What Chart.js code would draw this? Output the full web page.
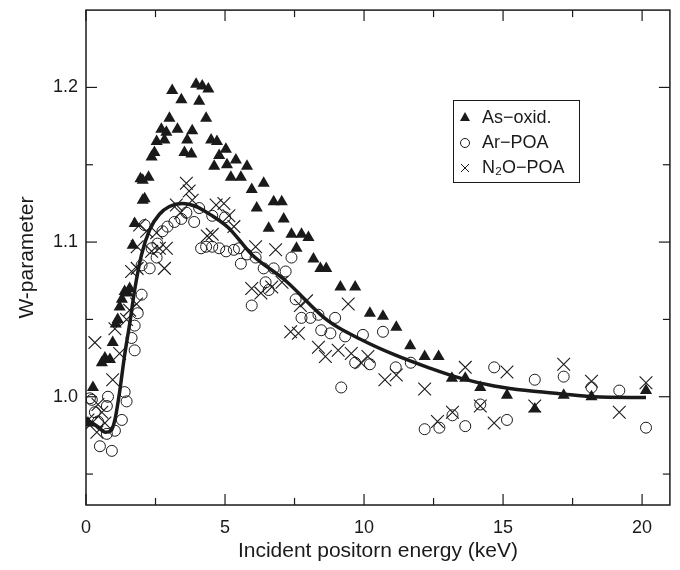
<!DOCTYPE html>
<html>
<head>
<meta charset="utf-8">
<script src="https://cdn.jsdelivr.net/npm/chart.js@4.4.1/dist/chart.umd.min.js"></script>
<style>
  html, body { margin: 0; padding: 0; background: #fff; }
  #wrap { width: 680px; height: 570px; }
</style>
</head>
<body>
<div id="wrap"><canvas id="c"></canvas></div>
<script>
// As-oxid. (filled triangles)
const asOxidX = [0.07, 0.25, 0.57, 0.68, 0.86, 0.96, 1.07, 1.14, 1.21, 1.29, 1.39, 1.50, 1.57, 1.68, 1.75, 2.04, 1.96, 2.04, 2.11, 2.25, 2.36, 2.46, 2.54, 2.71, 2.82, 2.89, 3.00, 3.10, 3.29, 3.43, 3.54, 3.64, 3.79, 3.82, 3.96, 4.07, 4.18, 4.32, 4.40, 4.50, 4.61, 4.71, 4.79, 5.03, 5.07, 5.21, 5.39, 5.57, 5.79, 5.96, 6.14, 6.39, 6.57, 6.75, 7.04, 7.11, 7.39, 7.57, 7.75, 8.00, 8.18, 8.43, 8.64, 9.15, 9.68, 10.21, 10.68, 11.16, 11.66, 12.18, 12.68, 13.16, 13.64, 14.18, 15.14, 16.14, 17.18, 18.18, 20.14];
const asOxidY = [0.983, 1.006, 1.022, 1.025, 1.024, 1.035, 1.047, 1.050, 1.058, 1.063, 1.068, 1.067, 1.070, 1.098, 1.112, 1.127, 1.141, 1.140, 1.128, 1.142, 1.155, 1.158, 1.165, 1.173, 1.166, 1.171, 1.180, 1.198, 1.173, 1.192, 1.158, 1.166, 1.157, 1.172, 1.202, 1.191, 1.201, 1.180, 1.199, 1.166, 1.149, 1.165, 1.156, 1.160, 1.150, 1.142, 1.153, 1.142, 1.149, 1.134, 1.122, 1.138, 1.109, 1.126, 1.126, 1.115, 1.105, 1.096, 1.105, 1.103, 1.089, 1.083, 1.083, 1.071, 1.071, 1.054, 1.052, 1.045, 1.033, 1.026, 1.026, 1.012, 1.012, 1.006, 1.001, 0.992, 1.001, 1.000, 1.004];

// Ar-POA (open circles)
const arPoaX = [0.14, 0.21, 0.32, 0.43, 0.50, 0.75, 0.93, 1.04, 1.29, 1.46, 1.39, 0.79, 0.75, 1.75, 1.64, 1.75, 1.86, 2.00, 2.00, 2.29, 2.11, 2.36, 2.54, 2.57, 2.75, 2.93, 3.18, 3.43, 3.61, 3.89, 4.07, 4.54, 5.00, 4.14, 4.32, 4.54, 4.79, 5.04, 5.32, 5.50, 5.57, 5.79, 6.10, 6.39, 6.75, 7.18, 7.39, 6.46, 6.57, 5.96, 7.54, 7.75, 8.07, 8.36, 8.46, 8.79, 8.96, 9.32, 9.96, 10.68, 9.68, 10.21, 11.14, 11.68, 9.18, 12.18, 12.71, 13.18, 13.64, 14.18, 14.68, 15.14, 16.14, 17.18, 18.18, 19.18, 20.14];
const arPoaY = [0.999, 0.998, 0.990, 0.984, 0.968, 0.976, 0.965, 0.978, 0.985, 0.997, 1.003, 1.000, 0.994, 1.030, 1.038, 1.046, 1.054, 1.066, 1.085, 1.083, 1.111, 1.096, 1.090, 1.099, 1.107, 1.110, 1.113, 1.115, 1.119, 1.113, 1.122, 1.117, 1.116, 1.096, 1.097, 1.097, 1.096, 1.094, 1.095, 1.096, 1.086, 1.092, 1.090, 1.083, 1.083, 1.081, 1.090, 1.074, 1.069, 1.059, 1.063, 1.051, 1.051, 1.053, 1.043, 1.041, 1.051, 1.039, 1.040, 1.042, 1.022, 1.021, 1.019, 1.022, 1.006, 0.979, 0.980, 0.988, 0.981, 0.995, 1.019, 0.985, 1.011, 1.013, 1.006, 1.004, 0.980];

// N2O-POA (crosses)
const n2oPoaX = [0.07, 0.21, 0.32, 0.39, 0.43, 0.57, 0.68, 0.96, 1.04, 1.21, 1.46, 1.57, 1.64, 1.82, 1.84, 1.84, 1.93, 2.18, 2.36, 2.54, 2.64, 2.82, 2.89, 3.25, 3.40, 3.61, 3.71, 3.82, 4.36, 4.54, 4.68, 4.96, 5.14, 5.32, 6.10, 6.82, 5.96, 6.29, 6.68, 7.05, 7.71, 7.93, 7.36, 7.64, 8.36, 8.61, 9.07, 9.43, 9.54, 9.89, 10.14, 10.75, 11.16, 12.18, 12.64, 13.18, 13.64, 14.18, 14.68, 15.14, 16.14, 17.18, 18.18, 19.18, 20.14];
const n2oPoaY = [0.985, 0.983, 1.035, 0.977, 0.995, 0.990, 0.983, 1.011, 1.044, 1.028, 1.050, 1.056, 1.081, 1.060, 1.083, 1.097, 1.111, 1.107, 1.094, 1.106, 1.096, 1.083, 1.096, 1.124, 1.119, 1.138, 1.133, 1.127, 1.104, 1.105, 1.124, 1.125, 1.117, 1.110, 1.097, 1.095, 1.070, 1.067, 1.071, 1.074, 1.059, 1.062, 1.042, 1.041, 1.032, 1.026, 1.030, 1.060, 1.028, 1.022, 1.026, 1.011, 1.014, 1.005, 0.984, 0.990, 1.019, 0.994, 0.983, 1.016, 0.994, 1.021, 1.010, 0.990, 1.009];

// fitted curve
const fitX = [0.05, 0.4, 0.7, 0.9, 1.05, 1.2, 1.39, 1.57, 1.75, 2.0, 2.29, 2.64, 3.0, 3.46, 3.96, 4.54, 5.14, 5.96, 7.18, 8.71, 9.89, 11.11, 12.29, 13.46, 14.68, 15.86, 17.04, 18.25, 20.14];
const fitY = [0.985, 0.981, 0.977, 0.978, 0.986, 1.002, 1.027, 1.047, 1.069, 1.092, 1.108, 1.118, 1.123, 1.125, 1.123, 1.117, 1.109, 1.092, 1.075, 1.049, 1.037, 1.027, 1.019, 1.012, 1.007, 1.004, 1.002, 1.000, 0.9995];

const xMajor = [0, 5, 10, 15, 20];
const xMinor = [2.5, 7.5, 12.5, 17.5];
const yMajor = [1.0, 1.1, 1.2];
const yMinor = [0.95, 1.05, 1.15];

const legendLabels = ['As\u2212oxid.', 'Ar\u2212POA', 'N\u2082O\u2212POA'];

const pts = (xs, ys) => xs.map((x, i) => ({ x: x, y: ys[i] }));
const ink = '#1a1a1a';
const fontFamily = '"Liberation Sans", Arial, Helvetica, sans-serif';

// box + inward ticks on all four sides
const frameTicks = {
  id: 'frameTicks',
  afterDatasetsDraw(chart) {
    const { ctx, chartArea: a, scales: { x, y } } = chart;
    ctx.save();
    ctx.strokeStyle = ink;
    ctx.lineWidth = 1.5;
    ctx.strokeRect(a.left, a.top, a.right - a.left, a.bottom - a.top);
    ctx.lineWidth = 1.2;
    const seg = (x1, y1, x2, y2) => {
      ctx.beginPath();
      ctx.moveTo(x1, y1);
      ctx.lineTo(x2, y2);
      ctx.stroke();
    };
    const xt = (vals, len) => vals.forEach(v => {
      const px = x.getPixelForValue(v);
      seg(px, a.bottom, px, a.bottom - len);
      seg(px, a.top, px, a.top + len);
    });
    const yt = (vals, len) => vals.forEach(v => {
      const py = y.getPixelForValue(v);
      seg(a.left, py, a.left + len, py);
      seg(a.right, py, a.right - len, py);
    });
    xt(xMajor, 11); xt(xMinor, 7);
    yt(yMajor, 11); yt(yMinor, 7);
    ctx.restore();
  }
};

// legend box inside the plot
const boxLegend = {
  id: 'boxLegend',
  afterDraw(chart) {
    const ctx = chart.ctx;
    const bx = 453, by = 100, bw = 126, bh = 82;
    ctx.save();
    ctx.fillStyle = '#fff';
    ctx.fillRect(bx, by, bw, bh);
    ctx.strokeStyle = ink;
    ctx.lineWidth = 1;
    ctx.strokeRect(bx + 0.5, by + 0.5, bw, bh);
    ctx.font = '18px ' + fontFamily;
    ctx.textBaseline = 'middle';
    ctx.fillStyle = ink;
    const mx = 465;
    const rows = [117, 142, 167];
    rows.forEach((ry, i) => {
      ctx.fillText(legendLabels[i], 482, ry + 1);
    });
    // triangle
    ctx.beginPath();
    ctx.moveTo(mx, rows[0] - 5);
    ctx.lineTo(mx + 5, rows[0] + 4);
    ctx.lineTo(mx - 5, rows[0] + 4);
    ctx.closePath();
    ctx.fill();
    // circle
    ctx.lineWidth = 1;
    ctx.beginPath();
    ctx.arc(mx, rows[1] + 1, 4.5, 0, Math.PI * 2);
    ctx.stroke();
    // cross
    ctx.beginPath();
    ctx.moveTo(mx - 4, rows[2] - 3); ctx.lineTo(mx + 4, rows[2] + 5);
    ctx.moveTo(mx + 4, rows[2] - 3); ctx.lineTo(mx - 4, rows[2] + 5);
    ctx.stroke();
    ctx.restore();
  }
};

new Chart(document.getElementById('c'), {
  type: 'scatter',
  data: {
    datasets: [
      {
        label: 'fit',
        type: 'line',
        data: pts(fitX, fitY),
        borderColor: ink,
        borderWidth: 3.5,
        pointRadius: 0,
        fill: false,
        tension: 0.4,
        cubicInterpolationMode: 'monotone'
      },
      {
        label: legendLabels[2],
        data: pts(n2oPoaX, n2oPoaY),
        pointStyle: 'crossRot',
        pointRadius: 9,
        borderColor: ink,
        borderWidth: 1.1,
        backgroundColor: 'rgba(0,0,0,0)'
      },
      {
        label: legendLabels[1],
        data: pts(arPoaX, arPoaY),
        pointStyle: 'circle',
        pointRadius: 5.5,
        borderColor: ink,
        borderWidth: 1,
        backgroundColor: 'rgba(0,0,0,0)'
      },
      {
        label: legendLabels[0],
        data: pts(asOxidX, asOxidY),
        pointStyle: 'triangle',
        pointRadius: 7,
        borderColor: ink,
        borderWidth: 0,
        backgroundColor: ink
      }
    ]
  },
  options: {
    responsive: true,
    maintainAspectRatio: false,
    animation: false,
    layout: { padding: { top: 6, right: 7, left: 0, bottom: 0 } },
    plugins: {
      legend: { display: false },
      tooltip: { enabled: false }
    },
    scales: {
      x: {
        type: 'linear',
        min: 0,
        max: 21,
        afterBuildTicks: s => { s.ticks = xMajor.map(v => ({ value: v })); },
        afterFit: s => { s.height = 65; s.paddingLeft = 0; s.paddingRight = 0; },
        grid: { display: false, drawTicks: false },
        border: { display: false },
        ticks: { color: ink, font: { size: 18, family: fontFamily }, padding: 12, maxRotation: 0 },
        title: { display: true, text: 'Incident positorn energy (keV)', color: ink, font: { size: 21, family: fontFamily }, padding: { top: 0, bottom: 6 } }
      },
      y: {
        type: 'linear',
        min: 0.93,
        max: 1.25,
        afterBuildTicks: s => { s.ticks = yMajor.map(v => ({ value: v })); },
        afterFit: s => { s.width = 86; s.paddingTop = 0; s.paddingBottom = 0; },
        grid: { display: false, drawTicks: false },
        border: { display: false },
        ticks: { color: ink, font: { size: 18, family: fontFamily }, padding: 8, callback: v => v.toFixed(1) },
        title: { display: true, text: 'W-parameter', color: ink, font: { size: 21, family: fontFamily }, padding: { top: 15, bottom: 0 } }
      }
    }
  },
  plugins: [frameTicks, boxLegend]
});
</script>
</body>
</html>
